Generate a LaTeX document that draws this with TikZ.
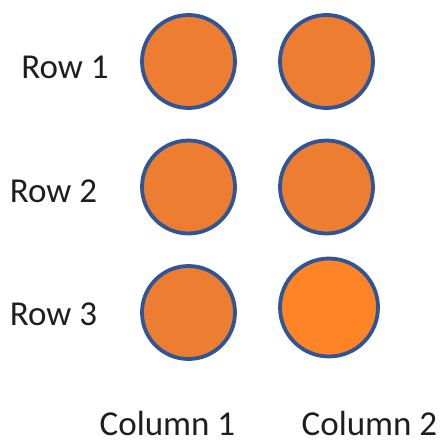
\documentclass[tikz,border=0pt]{standalone}
\usepackage{fontspec}
\setmainfont{Carlito}
\usepackage{xcolor}
\usepackage{tikz}
\usetikzlibrary{positioning}
\definecolor{dotorange}{RGB}{237,125,49}
\definecolor{dotbright}{RGB}{255,132,38}
\definecolor{rimblue}{RGB}{47,85,151}
\definecolor{labelgray}{RGB}{30,30,30}

\begin{document}
\begin{tikzpicture}[
        x=1pt, y=-1pt,
        dot/.style={circle, draw=rimblue, fill=dotorange, line width=3.8pt, minimum size=93pt, inner sep=0pt},
        label/.style={font=\fontsize{35}{40}\selectfont, text=labelgray, inner sep=0pt, text depth=0pt, anchor=base}
    ]
        \useasboundingbox (0,0) rectangle (441,439);

        \node[dot] (r1c1) at (188.5, 61.5) {};
        \node[dot] (r1c2) at (326.5, 61.5) {};
        \node[dot] (r2c1) at (188.5,187.0) {};
        \node[dot] (r2c2) at (326.5,187.0) {};
        \node[dot] (r3c1) at (188.5,312.5) {};
        \node[dot, fill=dotbright, minimum size=98pt] (r3c2) at (329.0,307.5) {};

        \node[label] (row1) at ( 65.0, 78.0) {Row 1};
        \node[label] (row2) at ( 53.5,202.0) {Row 2};
        \node[label] (row3) at ( 53.5,325.0) {Row 3};

        \node[label] (col1) at (167.5,435.0) {Column 1};
        \node[label] (col2) at (369.5,435.0) {Column 2};
    \end{tikzpicture}
\end{document}
